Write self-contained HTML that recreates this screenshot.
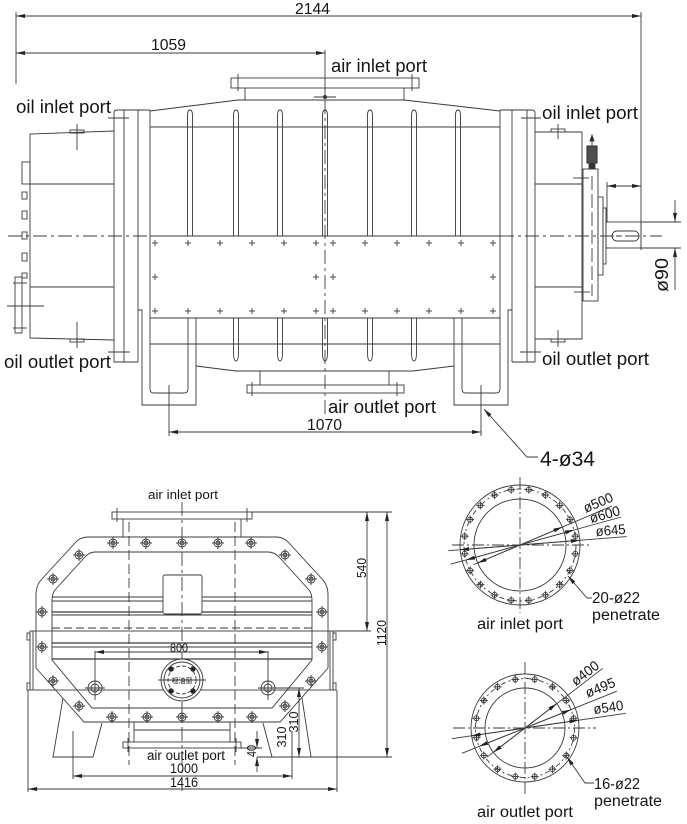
<!DOCTYPE html>
<html><head><meta charset="utf-8">
<style>
html,body{margin:0;padding:0;background:#fff;}
svg{display:block}
text{font-family:"Liberation Sans","Noto Sans CJK SC",sans-serif;}
</style></head><body>
<svg width="687" height="824" viewBox="0 0 687 824" xmlns="http://www.w3.org/2000/svg">
<defs>
<marker id="a" viewBox="0 0 10 10" refX="10" refY="5" markerWidth="9" markerHeight="4" markerUnits="userSpaceOnUse" orient="auto-start-reverse" preserveAspectRatio="none"><path d="M0,0 L10,5 L0,10 Z" fill="#222" stroke="none"/></marker>
<g id="b"><circle r="4"/><circle r="2"/><line x1="-6" y1="0" x2="6" y2="0"/><line x1="0" y1="-6" x2="0" y2="6"/></g>
<g id="h"><circle r="2.5"/><line x1="-4" x2="4" y1="0" y2="0"/><line y1="-4" y2="4" x1="0" x2="0"/></g>
<g id="p"><line x1="-3" x2="3" y1="0" y2="0"/><line y1="-3" y2="3" x1="0" x2="0"/></g>
</defs>

<g stroke="#3a3a3a" stroke-width="0.9" fill="none">
<!-- ============ TOP VIEW ============ -->
<line x1="16" y1="16" x2="641" y2="16" marker-start="url(#a)" marker-end="url(#a)"/>
<line x1="16" y1="12" x2="16" y2="84"/>
<line x1="641" y1="12" x2="641" y2="250"/>
<line x1="16" y1="53" x2="325" y2="53" marker-start="url(#a)" marker-end="url(#a)"/>
<line x1="325" y1="50" x2="325" y2="96"/>

<!-- air inlet flange -->
<rect x="231" y="78" width="188" height="10"/>
<line x1="238" y1="74" x2="238" y2="91"/>
<line x1="412" y1="74" x2="412" y2="91"/>
<line x1="245" y1="88" x2="245" y2="100"/>
<line x1="404" y1="88" x2="404" y2="100"/>
<path d="M150,111 L238,100 L404,100 L500,111"/>
<line x1="314" y1="97" x2="336" y2="97"/>
<circle cx="325" cy="97" r="1.6" fill="#333"/>

<!-- flange plates -->
<path d="M150,110 H117 Q114,110 114,113 V362 H138"/>
<line x1="124" y1="110" x2="124" y2="362"/>
<line x1="138" y1="110" x2="138" y2="362"/>
<line x1="150" y1="110" x2="150" y2="318"/>
<path d="M500,110 H532 Q535,110 535,113 V362 H512"/>
<line x1="527" y1="110" x2="527" y2="362"/>
<line x1="512" y1="110" x2="512" y2="362"/>
<line x1="500" y1="110" x2="500" y2="318"/>
<line x1="108" y1="118" x2="129" y2="118"/>
<line x1="108" y1="352" x2="130" y2="352"/>
<line x1="521" y1="118" x2="541" y2="118"/>
<line x1="520" y1="352" x2="541" y2="352"/>

<!-- body -->
<line x1="150" y1="127" x2="500" y2="127"/>
<path d="M187.5,236 V116 Q187.5,110 190,110 Q192.5,110 192.5,116 V236"/>
<path d="M233.5,236 V116 Q233.5,110 236,110 Q238.5,110 238.5,116 V236"/>
<path d="M277.5,236 V116 Q277.5,110 280,110 Q282.5,110 282.5,116 V236"/>
<path d="M322.5,236 V116 Q322.5,110 325,110 Q327.5,110 327.5,116 V236"/>
<path d="M367.5,236 V116 Q367.5,110 370,110 Q372.5,110 372.5,116 V236"/>
<path d="M411.5,236 V116 Q411.5,110 414,110 Q416.5,110 416.5,116 V236"/>
<path d="M455.5,236 V116 Q455.5,110 458,110 Q460.5,110 460.5,116 V236"/>
<path d="M233.5,318 V352 Q233.5,361 236,361 Q238.5,361 238.5,352 V318"/>
<path d="M277.5,318 V352 Q277.5,361 280,361 Q282.5,361 282.5,352 V318"/>
<path d="M322.5,318 V352 Q322.5,361 325,361 Q327.5,361 327.5,352 V318"/>
<path d="M367.5,318 V352 Q367.5,361 370,361 Q372.5,361 372.5,352 V318"/>
<path d="M411.5,318 V352 Q411.5,361 414,361 Q416.5,361 416.5,352 V318"/>
<line x1="150" y1="236" x2="500" y2="236"/>
<line x1="150" y1="318" x2="500" y2="318"/>
<line x1="150" y1="344" x2="500" y2="344"/>

<!-- panel crosses -->
<use href="#p" x="155" y="243"/><use href="#p" x="188" y="243"/><use href="#p" x="220" y="243"/><use href="#p" x="252" y="243"/><use href="#p" x="284" y="243"/><use href="#p" x="316" y="243"/><use href="#p" x="333" y="243"/><use href="#p" x="365" y="243"/><use href="#p" x="397" y="243"/><use href="#p" x="429" y="243"/><use href="#p" x="461" y="243"/><use href="#p" x="493" y="243"/>
<use href="#p" x="155" y="311"/><use href="#p" x="188" y="311"/><use href="#p" x="220" y="311"/><use href="#p" x="252" y="311"/><use href="#p" x="284" y="311"/><use href="#p" x="316" y="311"/><use href="#p" x="333" y="311"/><use href="#p" x="365" y="311"/><use href="#p" x="397" y="311"/><use href="#p" x="429" y="311"/><use href="#p" x="461" y="311"/><use href="#p" x="493" y="311"/>
<use href="#p" x="155" y="277"/><use href="#p" x="316" y="277"/><use href="#p" x="333" y="277"/><use href="#p" x="493" y="277"/>

<!-- bottom & outlet -->
<path d="M196,366 L236,371 L413,371 L454,366"/>
<line x1="260" y1="371" x2="260" y2="385"/>
<line x1="389" y1="371" x2="389" y2="385"/>
<rect x="247" y="385" width="157" height="8"/>
<line x1="252" y1="382" x2="252" y2="396"/>
<line x1="397" y1="382" x2="397" y2="396"/>

<!-- feet -->
<path d="M138,310 H142 V405 H196 V318"/>
<path d="M150,318 V389 Q150,393 154,393 H184 Q188,393 188,389 V318"/>
<path d="M512,310 H508 V405 H454 V318"/>
<path d="M500,318 V389 Q500,393 496,393 H466 Q462,393 462,389 V318"/>
<line x1="169" y1="385" x2="169" y2="436"/>
<line x1="481" y1="385" x2="481" y2="436"/>
<line x1="169" y1="432" x2="481" y2="432" marker-start="url(#a)" marker-end="url(#a)"/>
<polyline points="484,409 527,457 538,457" marker-start="url(#a)"/>

<!-- left housing -->
<path d="M114,131 L30,134 V338 L114,340"/>
<line x1="30" y1="184" x2="114" y2="184"/>
<line x1="30" y1="287" x2="114" y2="287"/>
<rect x="70" y="130" width="14" height="3"/>
<line x1="77" y1="124" x2="77" y2="150"/>
<rect x="70" y="339" width="14" height="3"/>
<line x1="77" y1="322" x2="77" y2="348"/>
<rect x="22" y="162" width="8" height="22"/>
<rect x="22" y="192" width="5" height="7"/>
<rect x="22" y="211" width="5" height="8"/>
<rect x="22" y="232" width="5" height="7"/>
<rect x="22" y="253" width="5" height="8"/>
<rect x="22" y="273" width="5" height="5"/>
<rect x="15" y="277" width="7" height="56"/>
<line x1="13" y1="283" x2="27" y2="283"/>
<line x1="13" y1="328" x2="27" y2="328"/>
<line x1="7" y1="306" x2="44" y2="306"/>

<!-- right housing -->
<path d="M535,132 H582 V339 H535"/>
<line x1="535" y1="184" x2="582" y2="184"/>
<line x1="535" y1="287" x2="582" y2="287"/>
<rect x="551" y="129" width="14" height="3"/>
<line x1="558" y1="124" x2="558" y2="139"/>
<rect x="551" y="339" width="14" height="3"/>
<line x1="558" y1="330" x2="558" y2="347"/>
<line x1="573" y1="178" x2="589" y2="178"/>
<line x1="574" y1="292" x2="590" y2="292"/>
<rect x="583" y="169" width="15" height="132"/>
<line x1="592" y1="176" x2="592" y2="296" stroke-dasharray="14 4"/>
<rect x="598" y="197" width="5" height="78"/>
<rect x="603" y="208" width="3" height="56"/>
<rect x="606" y="222" width="35" height="26"/>
<rect x="612" y="231" width="27" height="10" rx="5"/>
<line x1="616" y1="236" x2="636" y2="236" stroke-dasharray="6 3"/>
<rect x="587" y="146" width="10" height="17" fill="#505050" stroke="#222"/>
<rect x="589" y="163" width="6" height="6" fill="#333"/>
<line x1="592" y1="136" x2="592" y2="146"/>
<path d="M590,141 L592,135 L594,141 Z" fill="#222"/>
<line x1="607" y1="182" x2="607" y2="222"/>
<line x1="607" y1="186" x2="641" y2="186" marker-start="url(#a)" marker-end="url(#a)"/>
<line x1="641" y1="222" x2="681" y2="222"/>
<line x1="641" y1="248" x2="681" y2="248"/>
<line x1="675" y1="200" x2="675" y2="222" marker-end="url(#a)"/>
<line x1="675" y1="290" x2="675" y2="248" marker-end="url(#a)"/>

<!-- centre lines -->
<line x1="8" y1="236" x2="150" y2="236" stroke-dasharray="14 4 3 4"/>
<line x1="500" y1="236" x2="662" y2="236" stroke-dasharray="14 4 3 4"/>
<line x1="325" y1="100" x2="325" y2="414" stroke-dasharray="14 4 3 4"/>

<!-- ============ END VIEW ============ -->
<rect x="112" y="512" width="140" height="7"/>
<line x1="117" y1="508" x2="117" y2="522"/>
<line x1="247" y1="508" x2="247" y2="522"/>
<line x1="123" y1="519" x2="123" y2="537"/>
<line x1="241" y1="519" x2="241" y2="537"/>
<path d="M88,537 H276 Q284,537 289,543 L323,580 Q328,586 328,594 V668 L280,722 H84 L36,668 V594 Q36,586 41,580 L75,543 Q80,537 88,537 Z"/>
<path d="M95,552 H268 Q275,552 280,558 L309,590 Q312,594 312,600 V660 L272,708 H92 L52,660 V600 Q52,594 55,590 L84,558 Q89,552 95,552 Z"/>
<line x1="52" y1="597" x2="312" y2="597"/>
<line x1="52" y1="601" x2="312" y2="601"/>
<line x1="52" y1="612" x2="312" y2="612" stroke-width="1.3"/>
<line x1="52" y1="615" x2="312" y2="615"/>
<line x1="52" y1="628" x2="312" y2="628" stroke-dasharray="8 4"/>
<line x1="52" y1="643" x2="312" y2="643" stroke-width="1.3"/>
<line x1="52" y1="647" x2="312" y2="647"/>
<line x1="52" y1="659" x2="312" y2="659" stroke-width="1.3"/>
<rect x="163" y="575" width="39" height="39" rx="2" fill="#fff"/>
<rect x="30" y="631" width="303" height="59"/>
<line x1="33" y1="631" x2="33" y2="690"/>
<line x1="330" y1="631" x2="330" y2="690"/>
<rect x="27" y="633" width="3" height="7"/>
<rect x="27" y="683" width="3" height="7"/>
<rect x="333" y="633" width="3" height="7"/>
<rect x="333" y="683" width="3" height="7"/>
<line x1="333" y1="631" x2="371" y2="631"/>

<use href="#b" x="113" y="543"/><use href="#b" x="146" y="543"/><use href="#b" x="182" y="543"/><use href="#b" x="218" y="543"/><use href="#b" x="251" y="543"/>
<use href="#b" x="79" y="555"/><use href="#b" x="53" y="579"/><use href="#b" x="42" y="612"/><use href="#b" x="42" y="647"/><use href="#b" x="53" y="681"/><use href="#b" x="79" y="706"/>
<use href="#b" x="285" y="555"/><use href="#b" x="311" y="579"/><use href="#b" x="322" y="612"/><use href="#b" x="322" y="647"/><use href="#b" x="311" y="681"/><use href="#b" x="285" y="706"/>
<use href="#b" x="112" y="717"/><use href="#b" x="147" y="717"/><use href="#b" x="182" y="717"/><use href="#b" x="218" y="717"/><use href="#b" x="252" y="717"/>

<line x1="129" y1="522" x2="129" y2="765" stroke-dasharray="10 4"/>
<line x1="235" y1="522" x2="235" y2="765" stroke-dasharray="10 4"/>
<line x1="182" y1="502" x2="182" y2="795" stroke-dasharray="14 4 3 4"/>

<line x1="95" y1="652" x2="268" y2="652" marker-start="url(#a)" marker-end="url(#a)"/>
<line x1="95" y1="651" x2="95" y2="700"/>
<line x1="268" y1="651" x2="268" y2="700"/>
<circle cx="95" cy="688" r="7"/><circle cx="95" cy="688" r="4"/><line x1="85" y1="688" x2="105" y2="688"/>
<circle cx="268" cy="688" r="7"/><circle cx="268" cy="688" r="4"/><line x1="258" y1="688" x2="278" y2="688"/>

<circle cx="182" cy="680" r="21" fill="#fff"/>
<circle cx="182" cy="680" r="18"/>
<circle cx="182" cy="680" r="14" stroke-dasharray="4 2"/>
<line x1="158" y1="680" x2="206" y2="680"/>
<circle cx="171" cy="669" r="2.3" fill="#222"/><circle cx="193" cy="669" r="2.3" fill="#222"/>
<circle cx="171" cy="691" r="2.3" fill="#222"/><circle cx="193" cy="691" r="2.3" fill="#222"/>

<line x1="134" y1="722" x2="134" y2="742"/>
<line x1="230" y1="722" x2="230" y2="742"/>
<line x1="134" y1="730" x2="230" y2="730"/>
<rect x="123" y="742" width="118" height="6"/>
<line x1="128" y1="738" x2="128" y2="752"/>
<line x1="236" y1="738" x2="236" y2="752"/>

<path d="M63,698 L53,757 H93 L102,723"/>
<path d="M263,723 L272,757 H311 L302,698"/>

<line x1="73" y1="731" x2="73" y2="779"/>
<line x1="292" y1="731" x2="292" y2="779"/>
<line x1="73" y1="776" x2="292" y2="776" marker-start="url(#a)" marker-end="url(#a)"/>
<line x1="28" y1="690" x2="28" y2="792"/>
<line x1="337" y1="690" x2="337" y2="792"/>
<line x1="28" y1="789" x2="337" y2="789" marker-start="url(#a)" marker-end="url(#a)"/>

<line x1="257" y1="757" x2="392" y2="757"/>
<line x1="272" y1="688" x2="304" y2="688"/>
<line x1="252" y1="512" x2="392" y2="512"/>
<line x1="241" y1="748" x2="262" y2="748"/>
<line x1="367" y1="512" x2="367" y2="631" marker-start="url(#a)" marker-end="url(#a)"/>
<line x1="387" y1="512" x2="387" y2="757" marker-start="url(#a)" marker-end="url(#a)"/>
<line x1="299" y1="688" x2="299" y2="757" marker-start="url(#a)" marker-end="url(#a)"/>
<line x1="257" y1="731" x2="257" y2="748" marker-end="url(#a)"/>
<line x1="257" y1="772" x2="257" y2="757" marker-end="url(#a)"/>

<!-- ============ AIR INLET FLANGE ============ -->
<circle cx="520" cy="545" r="60"/>
<circle cx="520" cy="545" r="46"/>
<circle cx="520" cy="545" r="56" stroke-dasharray="5 3 2 3"/>
<line x1="520" y1="477" x2="520" y2="613" stroke-dasharray="12 3 2 3"/>
<line x1="452" y1="545" x2="592" y2="545" stroke-dasharray="12 3 2 3"/>
<use href="#h" x="528.8" y="489.7"/><use href="#h" x="545.4" y="495.1"/><use href="#h" x="559.6" y="505.4"/><use href="#h" x="569.9" y="519.6"/><use href="#h" x="575.3" y="536.2"/>
<use href="#h" x="575.3" y="553.8"/><use href="#h" x="569.9" y="570.4"/><use href="#h" x="559.6" y="584.6"/><use href="#h" x="545.4" y="594.9"/><use href="#h" x="528.8" y="600.3"/>
<use href="#h" x="511.2" y="600.3"/><use href="#h" x="494.6" y="594.9"/><use href="#h" x="480.4" y="584.6"/><use href="#h" x="470.1" y="570.4"/><use href="#h" x="464.7" y="553.8"/>
<use href="#h" x="464.7" y="536.2"/><use href="#h" x="470.1" y="519.6"/><use href="#h" x="480.4" y="505.4"/><use href="#h" x="494.6" y="495.1"/><use href="#h" x="511.2" y="489.7"/>
<line x1="474" y1="564.5" x2="612" y2="506"/>
<line x1="520" y1="545" x2="562.3" y2="527" marker-end="url(#a)"/>
<line x1="520" y1="545" x2="477.7" y2="563" marker-end="url(#a)"/>
<line x1="450.6" y1="564.2" x2="621.2" y2="517"/>
<line x1="520" y1="545" x2="574" y2="530" marker-end="url(#a)"/>
<line x1="520" y1="545" x2="466" y2="560" marker-end="url(#a)"/>
<line x1="448.2" y1="550.7" x2="626.7" y2="536.6"/>
<line x1="520" y1="545" x2="579.8" y2="540.3" marker-end="url(#a)"/>
<line x1="520" y1="545" x2="460.2" y2="549.7" marker-end="url(#a)"/>
<polyline points="568,576 587,598 592,598" marker-start="url(#a)"/>

<!-- ============ AIR OUTLET FLANGE ============ -->
<circle cx="525" cy="728" r="54"/>
<circle cx="525" cy="728" r="40"/>
<circle cx="525" cy="728" r="49.5" stroke-dasharray="5 3 2 3"/>
<line x1="525" y1="662" x2="525" y2="796" stroke-dasharray="12 3 2 3"/>
<line x1="453" y1="728" x2="596" y2="728" stroke-dasharray="12 3 2 3"/>
<use href="#h" x="534.7" y="679.4"/><use href="#h" x="552.5" y="686.8"/><use href="#h" x="566.2" y="700.5"/><use href="#h" x="573.6" y="718.3"/>
<use href="#h" x="573.6" y="737.7"/><use href="#h" x="566.2" y="755.5"/><use href="#h" x="552.5" y="769.2"/><use href="#h" x="534.7" y="776.6"/>
<use href="#h" x="515.3" y="776.6"/><use href="#h" x="497.5" y="769.2"/><use href="#h" x="483.8" y="755.5"/><use href="#h" x="476.4" y="737.7"/>
<use href="#h" x="476.4" y="718.3"/><use href="#h" x="483.8" y="700.5"/><use href="#h" x="497.5" y="686.8"/><use href="#h" x="515.3" y="679.4"/>
<line x1="486.9" y1="757.2" x2="602.8" y2="668.3"/>
<line x1="525" y1="728" x2="556.7" y2="703.6" marker-end="url(#a)"/>
<line x1="525" y1="728" x2="493.3" y2="752.4" marker-end="url(#a)"/>
<line x1="461.9" y1="753.3" x2="616.9" y2="691.2"/>
<line x1="525" y1="728" x2="571" y2="709.6" marker-end="url(#a)"/>
<line x1="525" y1="728" x2="479" y2="746.4" marker-end="url(#a)"/>
<line x1="451.8" y1="738.7" x2="625.9" y2="713.3"/>
<line x1="525" y1="728" x2="578.4" y2="720.2" marker-end="url(#a)"/>
<line x1="525" y1="728" x2="471.6" y2="735.8" marker-end="url(#a)"/>
<polyline points="567,757 585,783 594,783" marker-start="url(#a)"/>
</g>

<!-- ============ TEXT ============ -->
<g fill="#151515" stroke="none">
<text x="295" y="14" font-size="16" textLength="35" lengthAdjust="spacingAndGlyphs">2144</text>
<text x="151" y="50" font-size="16" textLength="35" lengthAdjust="spacingAndGlyphs">1059</text>
<text x="331" y="72" font-size="18.5" textLength="96" lengthAdjust="spacingAndGlyphs">air inlet port</text>
<text x="16" y="113" font-size="18.5" textLength="95" lengthAdjust="spacingAndGlyphs">oil inlet port</text>
<text x="542" y="119" font-size="18.5" textLength="96" lengthAdjust="spacingAndGlyphs">oil inlet port</text>
<text x="4" y="368" font-size="18.5" textLength="107" lengthAdjust="spacingAndGlyphs">oil outlet port</text>
<text x="542" y="365" font-size="18.5" textLength="107" lengthAdjust="spacingAndGlyphs">oil outlet port</text>
<text x="328" y="413" font-size="18.5" textLength="108" lengthAdjust="spacingAndGlyphs">air outlet port</text>
<text x="307" y="430" font-size="16" textLength="35" lengthAdjust="spacingAndGlyphs">1070</text>
<text x="540" y="466" font-size="21" textLength="55" lengthAdjust="spacingAndGlyphs">4-ø34</text>
<text transform="translate(668,275) rotate(-90)" text-anchor="middle" font-size="18" textLength="34" lengthAdjust="spacingAndGlyphs">ø90</text>

<text x="148" y="499" font-size="13" textLength="70" lengthAdjust="spacingAndGlyphs">air inlet port</text>
<text x="170" y="652" font-size="12" textLength="18" lengthAdjust="spacingAndGlyphs">800</text>
<text x="147" y="760" font-size="13.5" textLength="78" lengthAdjust="spacingAndGlyphs">air outlet port</text>
<text x="170" y="773" font-size="13.5" textLength="28" lengthAdjust="spacingAndGlyphs">1000</text>
<text x="170" y="787" font-size="13.5" textLength="28" lengthAdjust="spacingAndGlyphs">1416</text>
<text transform="translate(366,568) rotate(-90)" text-anchor="middle" font-size="12.5" textLength="20" lengthAdjust="spacingAndGlyphs">540</text>
<text transform="translate(386,633) rotate(-90)" text-anchor="middle" font-size="12.5" textLength="26" lengthAdjust="spacingAndGlyphs">1120</text>
<text transform="translate(256,751) rotate(-90)" text-anchor="middle" font-size="12.5" textLength="12" lengthAdjust="spacingAndGlyphs">40</text>
<text transform="translate(286,737) rotate(-90)" text-anchor="middle" font-size="12.5" textLength="21" lengthAdjust="spacingAndGlyphs">310</text>
<text transform="translate(298,722) rotate(-90)" text-anchor="middle" font-size="12.5" textLength="21" lengthAdjust="spacingAndGlyphs">310</text>
<text x="182" y="683" text-anchor="middle" font-size="7" font-family="Noto Sans CJK SC, sans-serif">视油窗</text>

<text transform="translate(600,507) rotate(-23)" text-anchor="middle" font-size="14" textLength="31" lengthAdjust="spacingAndGlyphs">ø500</text>
<text transform="translate(606,519) rotate(-15.5)" text-anchor="middle" font-size="14" textLength="31" lengthAdjust="spacingAndGlyphs">ø600</text>
<text transform="translate(611,535) rotate(-5)" text-anchor="middle" font-size="14" textLength="30" lengthAdjust="spacingAndGlyphs">ø645</text>
<text x="592" y="603" font-size="15.5" textLength="48" lengthAdjust="spacingAndGlyphs">20-ø22</text>
<text x="592" y="620" font-size="15.5" textLength="68" lengthAdjust="spacingAndGlyphs">penetrate</text>
<text x="477" y="629" font-size="15.5" textLength="86" lengthAdjust="spacingAndGlyphs">air inlet port</text>

<text transform="translate(588,677) rotate(-37.5)" text-anchor="middle" font-size="14" textLength="31" lengthAdjust="spacingAndGlyphs">ø400</text>
<text transform="translate(602,692) rotate(-21.8)" text-anchor="middle" font-size="14" textLength="31" lengthAdjust="spacingAndGlyphs">ø495</text>
<text transform="translate(609,712) rotate(-8.3)" text-anchor="middle" font-size="14" textLength="30" lengthAdjust="spacingAndGlyphs">ø540</text>
<text x="594" y="789" font-size="15.5" textLength="46" lengthAdjust="spacingAndGlyphs">16-ø22</text>
<text x="594" y="806" font-size="15.5" textLength="68" lengthAdjust="spacingAndGlyphs">penetrate</text>
<text x="477" y="817" font-size="15.5" textLength="96" lengthAdjust="spacingAndGlyphs">air outlet port</text>
</g>
</svg>
</body></html>
